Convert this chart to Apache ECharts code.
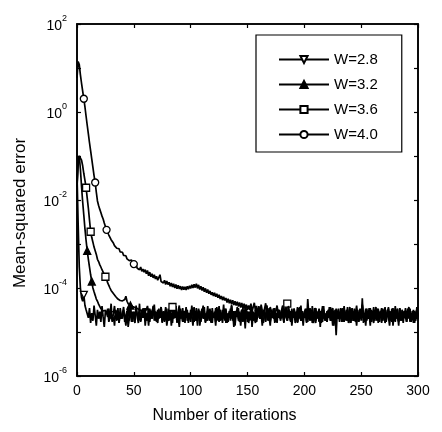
<!DOCTYPE html>
<html>
<head>
<meta charset="utf-8">
<script src="https://cdn.jsdelivr.net/npm/echarts@6/dist/echarts.min.js"></script>
<style>
  html, body { margin: 0; padding: 0; background: #fff; }
  #chart { width: 442px; height: 432px; }
</style>
</head>
<body>
<div id="chart"></div>
<script>
// legend names, in legend order
const seriesNames = ['W=2.8', 'W=3.2', 'W=3.6', 'W=4.0'];
// decades that get a label on the y axis (10^e)
const yLabelExponents = [2, 0, -2, -4, -6];

// mean-squared error per iteration (index = iteration 0..300)
const mseW28 = [
  4e-2, 3e-3, 3e-4, 1e-4, 6e-5, 5e-5, 7e-5, 4e-5, 3.2e-5, 2.6e-5,
  2.1e-5, 3.5e-5, 1.6e-5, 2.7e-5, 1.8e-5, 4.0e-5, 2.4e-5, 1.4e-5, 3.2e-5, 2.0e-5,
  2.9e-5, 1.7e-5, 3.9e-5, 2.2e-5, 1.3e-5, 3.0e-5, 2.6e-5, 3.4e-5, 1.7e-5, 2.1e-5,
  4.4e-5, 1.8e-5, 2.4e-5, 1.4e-5, 3.2e-5, 2.2e-5, 3.5e-5, 1.6e-5, 2.7e-5, 2.0e-5,
  2.6e-5, 3.7e-5, 1.7e-5, 2.4e-5, 3.0e-5, 1.3e-5, 2.1e-5, 3.4e-5, 2.4e-5, 1.7e-5,
  2.9e-5, 2.0e-5, 4.0e-5, 2.2e-5, 1.6e-5, 2.7e-5, 1.8e-5, 3.2e-5, 2.1e-5, 3.5e-5,
  1.4e-5, 2.6e-5, 2.2e-5, 3.4e-5, 1.7e-5, 2.7e-5, 2.0e-5, 3.0e-5, 4.2e-5, 1.8e-5,
  2.4e-5, 1.6e-5, 2.9e-5, 2.1e-5, 3.7e-5, 1.7e-5, 2.6e-5, 1.8e-5, 3.2e-5, 1.4e-5,
  2.2e-5, 3.4e-5, 2.0e-5, 2.7e-5, 1.6e-5, 3.0e-5, 2.4e-5, 3.9e-5, 1.8e-5, 2.1e-5,
  1.3e-5, 2.9e-5, 2.2e-5, 3.5e-5, 1.7e-5, 2.6e-5, 2.1e-5, 3.2e-5, 1.6e-5, 2.7e-5,
  2.0e-5, 4.0e-5, 2.4e-5, 1.7e-5, 3.0e-5, 1.8e-5, 2.6e-5, 3.4e-5, 1.4e-5, 2.2e-5,
  2.9e-5, 2.1e-5, 3.7e-5, 1.6e-5, 2.7e-5, 1.8e-5, 3.2e-5, 2.4e-5, 1.7e-5, 3.5e-5,
  2.1e-5, 2.7e-5, 1.4e-5, 3.0e-5, 2.2e-5, 3.9e-5, 1.8e-5, 2.6e-5, 1.6e-5, 2.9e-5,
  2.4e-5, 3.4e-5, 2.0e-5, 1.7e-5, 2.7e-5, 2.1e-5, 4.2e-5, 1.8e-5, 3.0e-5, 1.4e-5,
  2.6e-5, 2.2e-5, 3.5e-5, 1.7e-5, 2.4e-5, 3.2e-5, 2.0e-5, 2.7e-5, 1.2e-5, 3.4e-5,
  2.1e-5, 2.9e-5, 1.8e-5, 3.7e-5, 1.3e-5, 2.6e-5, 2.2e-5, 3.2e-5, 1.7e-5, 2.4e-5,
  3.0e-5, 2.0e-5, 3.4e-5, 2.1e-5, 1.6e-5, 2.7e-5, 2.4e-5, 4.0e-5, 1.8e-5, 2.2e-5,
  1.4e-5, 3.2e-5, 2.6e-5, 2.0e-5, 3.5e-5, 1.7e-5, 2.7e-5, 2.1e-5, 3.0e-5, 1.8e-5,
  2.4e-5, 3.9e-5, 1.6e-5, 2.9e-5, 2.2e-5, 1.8e-5, 3.2e-5, 2.6e-5, 1.7e-5, 3.4e-5,
  2.1e-5, 2.7e-5, 1.6e-5, 2.4e-5, 3.7e-5, 2.0e-5, 2.9e-5, 1.8e-5, 2.6e-5, 1.4e-5,
  3.0e-5, 2.2e-5, 3.4e-5, 1.7e-5, 2.7e-5, 2.1e-5, 3.2e-5, 1.6e-5, 2.4e-5, 3.5e-5,
  1.8e-5, 2.6e-5, 2.2e-5, 3.0e-5, 1.3e-5, 2.9e-5, 2.1e-5, 3.9e-5, 1.8e-5, 2.4e-5,
  1.7e-5, 3.2e-5, 2.6e-5, 2.0e-5, 3.4e-5, 2.2e-5, 1.6e-5, 2.7e-5, 0.85e-5, 3.0e-5,
  2.1e-5, 2.4e-5, 3.5e-5, 1.8e-5, 2.7e-5, 1.7e-5, 2.9e-5, 2.2e-5, 3.7e-5, 2.0e-5,
  2.6e-5, 1.6e-5, 3.0e-5, 2.1e-5, 3.4e-5, 2.4e-5, 1.7e-5, 2.7e-5, 2.0e-5, 3.2e-5,
  2.2e-5, 4.0e-5, 1.8e-5, 2.6e-5, 1.4e-5, 3.0e-5, 2.1e-5, 3.5e-5, 2.4e-5, 1.7e-5,
  2.7e-5, 2.0e-5, 3.2e-5, 2.2e-5, 3.4e-5, 1.6e-5, 2.6e-5, 2.1e-5, 2.9e-5, 1.8e-5,
  2.4e-5, 3.7e-5, 1.7e-5, 2.7e-5, 2.2e-5, 3.0e-5, 2.0e-5, 3.4e-5, 1.4e-5, 2.6e-5,
  2.1e-5, 3.2e-5, 2.4e-5, 1.8e-5, 3.5e-5, 2.2e-5, 2.7e-5, 1.6e-5, 2.9e-5, 2.1e-5,
  2.6e-5, 3.4e-5, 2.0e-5, 2.4e-5, 1.7e-5, 3.0e-5, 2.2e-5, 2.7e-5, 1.8e-5, 3.7e-5,
  2.4e-5
];

const mseW32 = [
  2e-2, 9e-2, 1e-1, 5e-2, 2e-2, 9e-3, 4.5e-3, 2.2e-3, 1.2e-3, 7e-4,
  4.5e-4, 3e-4, 2e-4, 1.4e-4, 1e-4, 8.2e-5, 6.8e-5, 5.6e-5, 5.0e-5, 4.3e-5,
  3.9e-5, 3.4e-5, 3.6e-5, 3.0e-5, 2.8e-5, 3.1e-5, 2.7e-5, 2.2e-5, 3.4e-5, 2.0e-5,
  3.0e-5, 1.7e-5, 2.6e-5, 3.9e-5, 2.1e-5, 1.8e-5, 2.9e-5, 1.6e-5, 3.5e-5, 2.4e-5,
  2.0e-5, 3.2e-5, 2.2e-5, 1.4e-5, 2.7e-5, 3.7e-5, 1.8e-5, 4.0e-5, 1.7e-5, 2.9e-5,
  2.2e-5, 1.6e-5, 3.4e-5, 2.6e-5, 2.0e-5, 4.4e-5, 1.7e-5, 2.4e-5, 3.0e-5, 2.1e-5,
  3.5e-5, 1.8e-5, 2.7e-5, 1.4e-5, 3.2e-5, 2.2e-5, 2.6e-5, 3.9e-5, 1.8e-5, 2.9e-5,
  1.7e-5, 2.4e-5, 3.4e-5, 2.1e-5, 2.7e-5, 1.6e-5, 3.0e-5, 2.0e-5, 3.7e-5, 2.2e-5,
  2.6e-5, 1.8e-5, 3.2e-5, 1.4e-5, 2.4e-5, 3.5e-5, 2.1e-5, 2.7e-5, 1.7e-5, 3.0e-5,
  4.0e-5, 2.0e-5, 2.6e-5, 1.8e-5, 2.9e-5, 1.6e-5, 3.4e-5, 2.2e-5, 2.7e-5, 2.1e-5,
  1.7e-5, 3.0e-5, 2.4e-5, 3.7e-5, 1.8e-5, 2.7e-5, 1.4e-5, 3.2e-5, 2.2e-5, 2.6e-5,
  3.4e-5, 2.0e-5, 2.9e-5, 1.7e-5, 2.4e-5, 3.9e-5, 2.1e-5, 1.8e-5, 3.0e-5, 1.6e-5,
  2.7e-5, 2.2e-5, 3.5e-5, 1.8e-5, 2.6e-5, 1.7e-5, 3.2e-5, 2.4e-5, 2.1e-5, 4.2e-5,
  1.8e-5, 2.9e-5, 1.6e-5, 2.7e-5, 2.2e-5, 3.4e-5, 2.0e-5, 2.6e-5, 1.3e-5, 3.0e-5,
  2.4e-5, 3.7e-5, 1.8e-5, 2.7e-5, 2.1e-5, 3.2e-5, 1.7e-5, 2.6e-5, 3.5e-5, 2.0e-5,
  2.9e-5, 1.6e-5, 2.4e-5, 2.2e-5, 3.4e-5, 1.8e-5, 2.7e-5, 1.7e-5, 3.0e-5, 2.1e-5,
  3.9e-5, 2.0e-5, 2.6e-5, 1.4e-5, 3.2e-5, 2.4e-5, 1.8e-5, 2.9e-5, 2.2e-5, 3.5e-5,
  1.7e-5, 2.7e-5, 2.1e-5, 3.4e-5, 1.8e-5, 2.6e-5, 1.6e-5, 3.0e-5, 2.4e-5, 2.0e-5,
  3.2e-5, 2.2e-5, 1.7e-5, 2.7e-5, 3.7e-5, 1.8e-5, 2.6e-5, 2.1e-5, 3.0e-5, 1.4e-5,
  2.4e-5, 3.4e-5, 2.0e-5, 2.7e-5, 1.7e-5, 2.9e-5, 2.2e-5, 4.0e-5, 1.8e-5, 2.6e-5,
  2.1e-5, 3.0e-5, 1.6e-5, 5.6e-5, 2.4e-5, 1.8e-5, 3.2e-5, 2.2e-5, 1.7e-5, 2.7e-5,
  3.5e-5, 2.0e-5, 2.6e-5, 1.8e-5, 2.9e-5, 1.6e-5, 3.4e-5, 2.2e-5, 2.7e-5, 2.1e-5,
  1.7e-5, 3.0e-5, 2.4e-5, 3.7e-5, 1.8e-5, 2.7e-5, 1.4e-5, 3.2e-5, 2.2e-5, 2.6e-5,
  3.4e-5, 2.0e-5, 2.9e-5, 1.7e-5, 2.4e-5, 3.9e-5, 2.1e-5, 1.8e-5, 3.0e-5, 1.6e-5,
  2.7e-5, 2.2e-5, 3.5e-5, 1.8e-5, 2.6e-5, 1.7e-5, 3.2e-5, 2.4e-5, 2.1e-5, 3.4e-5,
  1.8e-5, 5.8e-5, 1.6e-5, 2.7e-5, 2.2e-5, 3.4e-5, 2.0e-5, 2.6e-5, 1.4e-5, 3.0e-5,
  2.4e-5, 3.7e-5, 1.8e-5, 2.7e-5, 2.1e-5, 3.2e-5, 1.7e-5, 2.6e-5, 3.5e-5, 2.0e-5,
  2.9e-5, 1.6e-5, 2.4e-5, 2.2e-5, 3.4e-5, 1.8e-5, 2.7e-5, 1.7e-5, 3.0e-5, 2.1e-5,
  3.9e-5, 2.0e-5, 2.6e-5, 1.4e-5, 3.2e-5, 2.4e-5, 1.8e-5, 2.9e-5, 2.2e-5, 3.5e-5,
  1.7e-5, 2.7e-5, 2.1e-5, 3.4e-5, 1.8e-5, 2.6e-5, 1.6e-5, 3.0e-5, 2.4e-5, 2.0e-5,
  2.7e-5
];

const mseW36 = [
  2e-2, 6e-2, 1e-1, 1.1e-1, 8e-2, 6e-2, 4e-2, 2.8e-2, 1.9e-2, 1.1e-2,
  6.5e-3, 3.5e-3, 1.9e-3, 1.4e-3, 1.1e-3, 8.5e-4, 7e-4, 5.8e-4, 4.5e-4, 4e-4,
  3.4e-4, 3e-4, 2.6e-4, 2.3e-4, 2e-4, 1.8e-4, 1.6e-4, 1.3e-4, 1.15e-4, 1e-4,
  8.8e-5, 8.2e-5, 7.5e-5, 7e-5, 6.4e-5, 6e-5, 5.6e-5, 5.8e-5, 5.2e-5, 4.9e-5,
  5.1e-5, 4.6e-5, 5.5e-5, 6.5e-5, 5e-5, 4.4e-5, 4.7e-5, 4.1e-5, 4.3e-5, 3.8e-5,
  4e-5, 3.6e-5, 3.9e-5, 3.4e-5, 3.7e-5, 3.2e-5, 3.5e-5, 3e-5, 3.4e-5, 2.9e-5,
  3.2e-5, 3.2e-5, 3.9e-5, 2.7e-5, 3.4e-5, 2.4e-5, 3.0e-5, 3.5e-5, 2.6e-5, 2.9e-5,
  2.2e-5, 3.2e-5, 2.0e-5, 2.7e-5, 3.7e-5, 2.1e-5, 2.9e-5, 1.7e-5, 2.6e-5, 3.4e-5,
  1.8e-5, 2.7e-5, 2.2e-5, 3.2e-5, 3.7e-5, 2.0e-5, 2.4e-5, 3.9e-5, 1.6e-5, 2.9e-5,
  2.1e-5, 3.4e-5, 2.6e-5, 1.7e-5, 3.0e-5, 2.2e-5, 3.7e-5, 1.8e-5, 2.7e-5, 2.0e-5,
  3.2e-5, 2.4e-5, 1.4e-5, 2.9e-5, 2.1e-5, 3.5e-5, 1.8e-5, 2.6e-5, 3.0e-5, 1.7e-5,
  2.7e-5, 4.0e-5, 2.0e-5, 2.4e-5, 1.8e-5, 3.0e-5, 2.2e-5, 3.4e-5, 1.6e-5, 2.6e-5,
  2.1e-5, 2.9e-5, 1.7e-5, 3.7e-5, 2.4e-5, 1.8e-5, 2.7e-5, 2.2e-5, 3.2e-5, 2.0e-5,
  3.4e-5, 1.6e-5, 2.6e-5, 2.1e-5, 3.0e-5, 1.8e-5, 3.9e-5, 2.4e-5, 1.7e-5, 2.7e-5,
  2.2e-5, 3.2e-5, 2.0e-5, 2.9e-5, 1.4e-5, 2.6e-5, 3.5e-5, 1.8e-5, 2.4e-5, 3.0e-5,
  1.7e-5, 2.7e-5, 2.1e-5, 3.4e-5, 1.8e-5, 2.9e-5, 2.2e-5, 1.6e-5, 3.2e-5, 2.6e-5,
  3.7e-5, 2.0e-5, 2.4e-5, 1.8e-5, 3.0e-5, 2.7e-5, 1.7e-5, 4.0e-5, 2.1e-5, 2.6e-5,
  1.8e-5, 2.9e-5, 2.2e-5, 3.4e-5, 1.6e-5, 2.7e-5, 2.0e-5, 3.2e-5, 2.4e-5, 2.1e-5,
  3.0e-5, 4.0e-5, 2.6e-5, 3.5e-5, 3.9e-5, 4.4e-5, 3.2e-5, 2.4e-5, 1.8e-5, 2.9e-5,
  2.2e-5, 3.2e-5, 2.0e-5, 2.7e-5, 1.6e-5, 3.5e-5, 2.4e-5, 1.8e-5, 2.9e-5, 2.1e-5,
  2.6e-5, 3.4e-5, 1.7e-5, 2.7e-5, 2.2e-5, 3.0e-5, 1.8e-5, 3.9e-5, 2.1e-5, 2.4e-5,
  1.6e-5, 2.9e-5, 2.6e-5, 3.4e-5, 2.0e-5, 2.7e-5, 1.7e-5, 3.2e-5, 2.2e-5, 1.8e-5,
  3.0e-5, 2.1e-5, 3.7e-5, 1.8e-5, 2.6e-5, 1.4e-5, 2.9e-5, 2.4e-5, 3.4e-5, 2.0e-5,
  2.7e-5, 1.7e-5, 3.0e-5, 2.2e-5, 3.5e-5, 1.8e-5, 2.6e-5, 2.1e-5, 3.2e-5, 1.6e-5,
  2.4e-5, 3.4e-5, 2.0e-5, 2.9e-5, 1.8e-5, 2.7e-5, 4.0e-5, 2.2e-5, 1.7e-5, 2.6e-5,
  3.0e-5, 2.1e-5, 2.7e-5, 1.7e-5, 3.4e-5, 2.4e-5, 2.0e-5, 2.9e-5, 1.8e-5, 3.2e-5,
  2.2e-5, 1.6e-5, 2.7e-5, 3.7e-5, 2.1e-5, 2.6e-5, 1.7e-5, 3.0e-5, 2.4e-5, 3.4e-5,
  2.0e-5, 2.7e-5, 1.8e-5, 3.2e-5, 2.2e-5, 1.4e-5, 2.9e-5, 2.6e-5, 3.5e-5, 1.8e-5,
  2.4e-5, 3.0e-5, 2.1e-5, 1.7e-5, 3.4e-5, 2.7e-5, 2.0e-5, 2.6e-5, 3.0e-5, 2.2e-5,
  1.7e-5, 2.9e-5, 3.7e-5, 1.8e-5, 2.6e-5, 2.1e-5, 3.2e-5, 1.6e-5, 2.7e-5, 2.4e-5,
  2.0e-5
];

const mseW40 = [
  6, 14, 12, 7, 4.5, 3, 2, 1.3, 0.8, 0.5,
  0.32, 0.2, 0.13, 0.085, 0.055, 0.036, 0.025, 0.015, 9.5e-3, 7.5e-3,
  6.2e-3, 5.2e-3, 4.3e-3, 3.7e-3, 3e-3, 2.5e-3, 2.1e-3, 1.9e-3, 1.6e-3, 1.5e-3,
  1.25e-3, 1.15e-3, 1.05e-3, 9.2e-4, 9.6e-4, 8e-4, 7.4e-4, 7.8e-4, 6.6e-4, 6.2e-4,
  6.5e-4, 5.5e-4, 5.1e-4, 5.4e-4, 4.6e-4, 4.8e-4, 4.2e-4, 4e-4, 4.3e-4, 3.7e-4,
  3.5e-4, 3.0e-4, 3.4e-4, 2.8e-4, 3.1e-4, 2.6e-4, 3.0e-4, 2.4e-4, 2.7e-4, 2.3e-4,
  2.6e-4, 2.1e-4, 2.5e-4, 1.9e-4, 2.3e-4, 1.8e-4, 2.1e-4, 1.7e-4, 2.0e-4, 1.6e-4,
  1.85e-4, 1.5e-4, 1.6e-4, 2.0e-4, 1.4e-4, 1.55e-4, 1.3e-4, 1.5e-4, 1.2e-4, 1.45e-4,
  1.2e-4, 1.35e-4, 1.1e-4, 1.3e-4, 1.05e-4, 1.25e-4, 1.0e-4, 1.2e-4, 9.6e-5, 1.15e-4,
  9.5e-5, 1.1e-4, 9.0e-5, 1.08e-4, 9.2e-5, 1.06e-4, 9.0e-5, 1.1e-4, 9.4e-5, 1.12e-4,
  9.8e-5, 1.18e-4, 1.0e-4, 1.22e-4, 1.02e-4, 1.25e-4, 9.8e-5, 1.18e-4, 9.2e-5, 1.1e-4,
  8.8e-5, 1.04e-4, 8.2e-5, 9.8e-5, 7.8e-5, 9.2e-5, 7.4e-5, 8.6e-5, 7.0e-5, 8.0e-5,
  6.6e-5, 7.8e-5, 6.3e-5, 7.4e-5, 6.0e-5, 7.0e-5, 5.6e-5, 6.6e-5, 5.3e-5, 6.3e-5,
  5.2e-5, 5.9e-5, 4.7e-5, 5.7e-5, 4.5e-5, 5.4e-5, 4.3e-5, 5.3e-5, 4.1e-5, 5.0e-5,
  4.0e-5, 4.9e-5, 3.8e-5, 4.7e-5, 3.6e-5, 4.6e-5, 3.4e-5, 4.4e-5, 3.3e-5, 4.2e-5,
  3.2e-5, 4.0e-5, 3.2e-5, 4.4e-5, 2.9e-5, 3.7e-5, 4.6e-5, 3.0e-5, 3.9e-5, 2.7e-5,
  3.5e-5, 2.6e-5, 4.2e-5, 3.0e-5, 2.4e-5, 3.4e-5, 4.5e-5, 2.7e-5, 3.2e-5, 2.2e-5,
  3.7e-5, 2.9e-5, 2.4e-5, 3.4e-5, 2.1e-5, 3.0e-5, 4.0e-5, 2.6e-5, 3.2e-5, 2.0e-5,
  2.9e-5, 3.5e-5, 2.2e-5, 2.7e-5, 3.2e-5, 2.1e-5, 3.9e-5, 2.6e-5, 1.8e-5, 3.0e-5,
  2.4e-5, 3.4e-5, 2.1e-5, 2.9e-5, 1.7e-5, 2.7e-5, 3.7e-5, 2.2e-5, 3.0e-5, 2.0e-5,
  2.6e-5, 3.2e-5, 1.8e-5, 2.7e-5, 2.2e-5, 3.5e-5, 2.1e-5, 2.9e-5, 1.6e-5, 2.4e-5,
  3.4e-5, 2.1e-5, 2.7e-5, 1.7e-5, 3.0e-5, 2.4e-5, 3.9e-5, 2.0e-5, 2.6e-5, 1.8e-5,
  2.9e-5, 2.2e-5, 3.2e-5, 1.8e-5, 2.7e-5, 3.5e-5, 2.1e-5, 1.6e-5, 2.6e-5, 3.0e-5,
  2.0e-5, 2.7e-5, 2.4e-5, 3.4e-5, 1.7e-5, 2.9e-5, 2.2e-5, 3.2e-5, 1.8e-5, 2.6e-5,
  3.7e-5, 2.1e-5, 2.7e-5, 1.8e-5, 3.0e-5, 2.4e-5, 1.4e-5, 3.2e-5, 2.2e-5, 2.7e-5,
  2.0e-5, 4.2e-5, 2.6e-5, 2.1e-5, 3.2e-5, 1.8e-5, 2.9e-5, 2.2e-5, 3.5e-5, 1.7e-5,
  2.7e-5, 2.1e-5, 3.0e-5, 2.4e-5, 1.8e-5, 3.4e-5, 2.2e-5, 2.9e-5, 1.6e-5, 2.6e-5,
  3.2e-5, 2.0e-5, 2.7e-5, 2.2e-5, 3.7e-5, 1.8e-5, 2.6e-5, 3.0e-5, 2.1e-5, 2.4e-5,
  1.7e-5, 2.9e-5, 3.4e-5, 2.1e-5, 2.6e-5, 1.8e-5, 3.2e-5, 2.4e-5, 2.7e-5, 2.0e-5,
  3.0e-5, 2.2e-5, 3.5e-5, 1.7e-5, 2.7e-5, 2.1e-5, 2.9e-5, 1.8e-5, 2.6e-5, 3.2e-5,
  2.2e-5
];

// iterations where a marker is drawn on each curve
const marksW28 = [6, 32];
const marksW32 = [9, 13, 47];
const marksW36 = [8, 12, 25, 84, 185];
const marksW40 = [6, 16, 26, 50];

const seriesValues = [mseW28, mseW32, mseW36, mseW40];
const seriesMarks = [marksW28, marksW32, marksW36, marksW40];

// marker look per curve: open down-triangle, filled triangle, open square, open circle
const markerStyles = [
  { symbol: 'path://M0,0L10,0L5,9Z', fill: '#fff' },
  { symbol: 'triangle', fill: '#000' },
  { symbol: 'rect', fill: '#fff' },
  { symbol: 'circle', fill: '#fff' },
];

const font = 'Liberation Sans, Arial, Helvetica, sans-serif';

function buildData(values, marks) {
  return values.map((v, i) => (marks.includes(i) ? { value: [i, v], symbolSize: 7 } : [i, v]));
}

function decadeLabel(v) {
  const e = Math.round(Math.log10(v));
  return yLabelExponents.includes(e) ? '{b|10}{s|' + e + '}' : '';
}

const axisLine = { show: true, onZero: false, lineStyle: { color: '#000', width: 1.6 } };
const axisTick = { show: true, inside: true, length: 4, lineStyle: { color: '#000', width: 1.2 } };

const chart = echarts.init(document.getElementById('chart'));

chart.setOption({
  animation: false,
  backgroundColor: '#fff',
  grid: { left: 77, right: 24, top: 24, bottom: 56, show: true, borderColor: '#000', borderWidth: 1.6 },
  legend: {
    orient: 'vertical',
    left: 256,
    top: 35,
    data: seriesNames,
    backgroundColor: '#fff',
    borderColor: '#000',
    borderWidth: 1.2,
    borderRadius: 0,
    padding: [17, 24, 10, 22],
    itemWidth: 50,
    itemHeight: 9,
    itemGap: 10,
    selectedMode: false,
    textStyle: { color: '#000', fontSize: 15, lineHeight: 14, fontFamily: font },
  },
  xAxis: [
    {
      type: 'value',
      min: 0,
      max: 300,
      interval: 50,
      position: 'bottom',
      name: 'Number of iterations',
      nameLocation: 'middle',
      nameGap: 32,
      nameTextStyle: { color: '#000', fontSize: 16, fontFamily: font, padding: [0, 46, 0, 0] },
      axisLine,
      axisTick,
      splitLine: { show: false },
      axisLabel: { color: '#000', fontSize: 14, fontFamily: font, margin: 8 },
    },
    {
      type: 'value',
      min: 0,
      max: 300,
      interval: 50,
      position: 'top',
      axisLine,
      axisTick,
      splitLine: { show: false },
      axisLabel: { show: false },
    },
  ],
  yAxis: [
    {
      type: 'log',
      logBase: 10,
      min: 1e-6,
      max: 1e2,
      interval: 1,
      position: 'left',
      name: 'Mean-squared error',
      nameLocation: 'middle',
      nameGap: 48,
      nameTextStyle: { color: '#000', fontSize: 17, fontFamily: font, padding: [0, 26, 0, 0] },
      axisLine,
      axisTick,
      splitLine: { show: false },
      axisLabel: {
        margin: 10,
        formatter: decadeLabel,
        rich: {
          b: { color: '#000', fontSize: 14, fontFamily: font, verticalAlign: 'bottom' },
          s: { color: '#000', fontSize: 9, fontFamily: font, verticalAlign: 'top', padding: [0, 0, 10, 0] },
        },
      },
    },
    {
      type: 'log',
      logBase: 10,
      min: 1e-6,
      max: 1e2,
      interval: 1,
      position: 'right',
      axisLine,
      axisTick,
      splitLine: { show: false },
      axisLabel: { show: false },
    },
  ],
  series: seriesNames.map((name, k) => ({
    name,
    type: 'line',
    data: buildData(seriesValues[k], seriesMarks[k]),
    symbol: markerStyles[k].symbol,
    symbolSize: 0,
    showSymbol: true,
    lineStyle: { color: '#000', width: 1.7 },
    itemStyle: { color: markerStyles[k].fill, borderColor: '#000', borderWidth: 1.3 },
    emphasis: { disabled: true },
    z: 2 + k,
  })),
});
</script>
</body>
</html>
